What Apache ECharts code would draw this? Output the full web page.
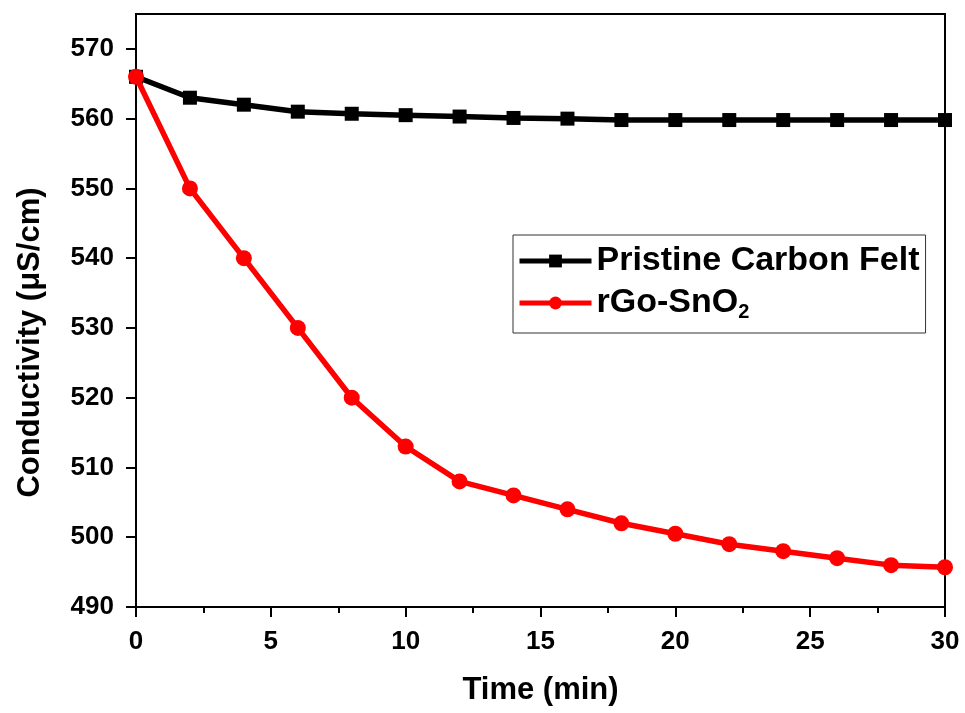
<!DOCTYPE html>
<html>
<head>
<meta charset="utf-8">
<script src="https://cdn.jsdelivr.net/npm/echarts@6/dist/echarts.min.js"></script>
<style>
  html, body { margin: 0; padding: 0; background: #fff; }
  #main { width: 965px; height: 713px; }
</style>
</head>
<body>
<div id="main"></div>
<script>
// time in minutes
var times = [0, 2, 4, 6, 8, 10, 12, 14, 16, 18, 20, 22, 24, 26, 28, 30];
// conductivity (uS/cm)
var pristine = [566, 563, 562, 561, 560.7, 560.5, 560.3, 560.1, 560, 559.8, 559.8, 559.8, 559.8, 559.8, 559.8, 559.8];
var rgoSnO2 = [566, 550, 540, 530, 520, 513, 508, 506, 504, 502, 500.5, 499, 498, 497, 496, 495.7];
var yTicks = [490, 500, 510, 520, 530, 540, 550, 560, 570];

function pairs(ys) {
  return times.map(function (t, i) { return [t, ys[i]]; });
}

var font = 'Liberation Sans, Arial, sans-serif';
var myChart = echarts.init(document.getElementById('main'));
myChart.setOption({
  backgroundColor: '#fff',
  animation: false,
  grid: {
    left: 136, right: 20, top: 14, bottom: 106,
    show: true, borderColor: '#000', borderWidth: 2
  },
  legend: {
    orient: 'vertical',
    left: 513, top: 235,
    padding: [9, 6, 11, 4],
    itemGap: 8,
    itemWidth: 72, itemHeight: 16,
    borderColor: '#333', borderWidth: 1,
    lineStyle: { width: 5 },
    data: ['Pristine Carbon Felt', 'rGo-SnO2'],
    formatter: function (name) {
      if (name === 'rGo-SnO2') return '{a|rGo-SnO}{b|2}';
      return '{a|' + name + '}';
    },
    textStyle: {
      fontFamily: font,
      rich: {
        a: { fontSize: 34, fontWeight: 'bold', color: '#000', fontFamily: font, lineHeight: 32 },
        b: { fontSize: 20, fontWeight: 'bold', color: '#000', fontFamily: font, padding: [18, 0, 0, 0] }
      }
    }
  },
  xAxis: {
    type: 'value',
    min: 0, max: 30, interval: 5,
    name: 'Time (min)',
    nameLocation: 'middle',
    nameGap: 68,
    nameTextStyle: { fontSize: 31, fontWeight: 'bold', color: '#000', fontFamily: font },
    axisLine: { lineStyle: { color: '#000', width: 2 } },
    axisTick: { length: 10, lineStyle: { color: '#000', width: 2 } },
    minorTick: { show: true, splitNumber: 2, length: 6, lineStyle: { color: '#000', width: 2 } },
    splitLine: { show: false },
    axisLabel: { fontSize: 26, fontWeight: 'bold', color: '#000', fontFamily: font, margin: 22 }
  },
  yAxis: {
    type: 'value',
    min: 490, max: 575, interval: 10,
    name: 'Conductivity (\u03bcS/cm)',
    nameLocation: 'middle',
    nameGap: 90,
    nameTextStyle: { fontSize: 31, fontWeight: 'bold', color: '#000', fontFamily: font, padding: [0, 64, 0, 0] },
    axisLine: { lineStyle: { color: '#000', width: 2 } },
    axisTick: { length: 10, customValues: yTicks, lineStyle: { color: '#000', width: 2 } },
    splitLine: { show: false },
    axisLabel: { fontSize: 26, fontWeight: 'bold', color: '#000', fontFamily: font, margin: 22, customValues: yTicks }
  },
  series: [{
    name: 'Pristine Carbon Felt',
    type: 'line',
    data: pairs(pristine),
    symbol: 'rect',
    symbolSize: 14,
    lineStyle: { color: '#000', width: 5.5 },
    itemStyle: { color: '#000' },
    z: 3
  }, {
    name: 'rGo-SnO2',
    type: 'line',
    data: pairs(rgoSnO2),
    symbol: 'circle',
    symbolSize: 16,
    lineStyle: { color: '#ff0000', width: 5.5 },
    itemStyle: { color: '#ff0000' },
    z: 4
  }]
});
window.addEventListener('resize', function () { myChart.resize(); });
</script>
</body>
</html>
